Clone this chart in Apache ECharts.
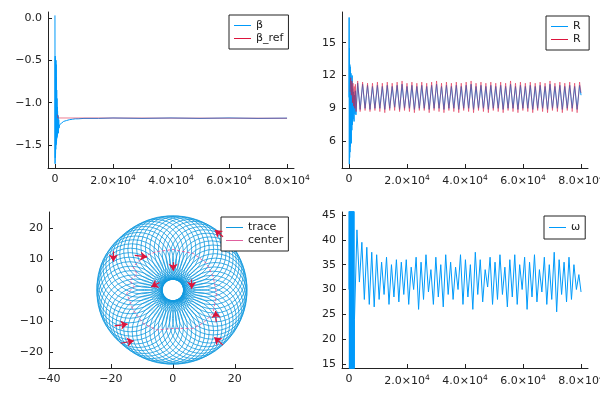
<!DOCTYPE html>
<html>
<head>
<meta charset="utf-8">
<script src="https://cdn.jsdelivr.net/npm/echarts@6/dist/echarts.min.js"></script>
<style>
  html, body { margin: 0; background: #fff; }
  #chart { width: 600px; height: 400px; }
</style>
</head>
<body>
<div id="chart"></div>
<script>
// ---- data ----
const timeTicks = [0, 20000, 40000, 60000, 80000];

// beta (top left)
const betaT = [0, 40, 80, 120, 160, 200, 240, 280, 320, 360, 400, 450, 500, 550, 600, 650, 700, 750, 800, 850, 900,
  1000, 1100, 1200, 1300, 1400, 1600, 1800, 2000, 2300, 2600, 3000, 3500, 4000, 5000, 6000, 7000, 8000, 10000,
  15000, 20000, 30000, 40000, 50000, 60000, 70000, 80000];
const betaV = [0.03, -1.72, -0.45, -1.65, -0.48, -1.6, -0.5, -1.55, -0.5, -1.5, -0.55, -1.48, -0.7, -1.45, -0.85,
  -1.42, -0.95, -1.4, -1.05, -1.38, -1.1, -1.3, -1.15, -1.36, -1.2, -1.3, -1.26, -1.27, -1.25, -1.24, -1.23, -1.22,
  -1.215, -1.21, -1.2, -1.195, -1.19, -1.19, -1.185, -1.185, -1.18, -1.185, -1.18, -1.185, -1.18, -1.185, -1.182];
const betaRefT = [850, 1000, 80000];
const betaRefV = [-1.14, -1.18, -1.183];
const betaTicks = [0, -0.5, -1.0, -1.5];

// R (top right): start-up part, then samples every half period
const rBlueEarlyT = [0, 60, 120, 180, 240, 300, 360, 420, 480, 540, 600, 700, 800, 900, 1000, 1100, 1200, 1300,
  1450, 1600, 1750, 1900, 2050, 2200, 2400];
const rBlueEarlyV = [10, 17.3, 3.9, 14.5, 4.5, 13, 5, 12.8, 5.5, 12.5, 6, 12.2, 5.8, 11.5, 7, 12, 7.5, 10.8, 8,
  10.5, 7.8, 10.2, 8.5, 10.6, 8.4];
const rBlueV = [11.3, 8.9, 11.2, 9.0, 11.1, 8.9, 11.0, 9.0, 11.1, 9.0, 11.0, 8.9, 11.1, 9.0, 11.0, 9.1, 11.1, 8.9,
  11.2, 9.0, 11.0, 9.0, 11.1, 8.9, 11.0, 9.0, 11.1, 9.0, 11.0, 8.9, 11.1, 9.0, 11.2, 9.0, 11.0, 8.9, 11.1, 9.0,
  11.0, 9.0, 11.1, 8.9, 11.0, 9.0, 11.1, 9.0, 11.2, 8.9, 11.0, 9.0, 11.1, 9.0, 11.0, 8.9, 11.1, 9.0, 11.0, 9.0,
  11.1, 8.9, 11.0, 9.0, 11.2, 9.0, 11.0, 8.9, 11.1, 9.0, 11.0, 9.0, 11.1, 8.9, 11.0, 9.0, 11.1, 9.0, 11.0, 8.9,
  11.2, 9.0, 11.0, 9.0, 11.1, 8.9, 11.0, 9.0, 11.1, 9.0, 11.0, 8.9, 11.1];
const rRedEarlyT = [400, 600, 800, 1000, 1200, 1400, 1600, 1800, 2000, 2200, 2450];
const rRedEarlyV = [10.5, 11.8, 10.2, 11.5, 9.5, 11.3, 9.2, 11.0, 9.0, 11.2, 8.7];
const rRedV = [11.5, 8.7, 11.4, 8.8, 11.3, 8.7, 11.3, 8.8, 11.4, 8.7, 11.3, 8.6, 11.4, 8.8, 11.3, 8.8, 11.4, 8.7,
  11.5, 8.8, 11.3, 8.7, 11.4, 8.6, 11.3, 8.8, 11.4, 8.8, 11.3, 8.6, 11.4, 8.8, 11.5, 8.7, 11.3, 8.6, 11.4, 8.8,
  11.3, 8.7, 11.4, 8.6, 11.3, 8.8, 11.4, 8.7, 11.5, 8.6, 11.3, 8.8, 11.4, 8.7, 11.3, 8.6, 11.4, 8.8, 11.3, 8.7,
  11.4, 8.6, 11.3, 8.8, 11.5, 8.7, 11.3, 8.6, 11.4, 8.8, 11.3, 8.7, 11.4, 8.6, 11.3, 8.8, 11.4, 8.7, 11.3, 8.6,
  11.5, 8.8, 11.3, 8.7, 11.4, 8.6, 11.3, 8.8, 11.4, 8.7, 11.3, 8.6, 11.4];
const rStep = 850;
const rTicks = [6, 9, 12, 15];

// omega (bottom right)
const omegaEarlyT = [0, 75, 150, 225, 300, 375, 450, 525, 600, 675, 750, 825, 900, 975, 1050, 1125, 1200, 1275,
  1350, 1425, 1500, 1575, 1650, 1725, 1800];
const omegaEarlyV = [30, 60, 0, 60, 0, 60, 0, 60, 0, 60, 0, 60, 0, 60, 0, 60, 0, 60, 0, 60, 0, 60, 0, 60, 0];
const omegaV = [24, 42, 31.5, 39.5, 28, 38.5, 27, 37.5, 26.5, 37, 28, 35.5, 29, 36.5, 27, 35, 28.5, 36, 27.5, 35.5,
  29, 36, 27, 34.5, 30, 36.5, 26, 35.5, 28, 37, 29.5, 34, 27, 36.5, 28.5, 35, 26.5, 37, 29, 35.5,
  28, 34.5, 30, 37, 27, 36, 28.5, 35, 26, 37.5, 29, 36, 27.5, 34, 30.5, 36.5, 27, 35.5, 28, 37,
  29, 34.5, 26.5, 36, 28.5, 37, 27, 35, 30, 36.5, 26, 35.5, 28.5, 37, 27.5, 34, 29.5, 36.5, 27, 35,
  28, 37.5, 25.5, 36, 29, 35.5, 27.5, 36.5, 28, 35, 30, 33];
const omegaStep = 850;
const omegaTicks = [15, 20, 25, 30, 35, 40, 45];

// trace (bottom left): loops as [centre x, centre y, radius]
const traceLoops = [
  [13.70, 0.00, 10.3], [13.62, 1.43, 10.3], [13.40, 2.85, 10.3], [13.03, 4.23, 10.3], [12.51, 5.57, 10.3],
  [11.86, 6.85, 10.3], [11.08, 8.05, 10.3], [10.18, 9.17, 10.3], [9.17, 10.18, 10.3], [8.05, 11.08, 10.3],
  [6.85, 11.86, 10.3], [5.57, 12.51, 10.3], [4.23, 13.03, 10.3], [2.85, 13.40, 10.3], [1.43, 13.62, 10.3],
  [0.00, 13.70, 10.3], [-1.43, 13.62, 10.3], [-2.85, 13.40, 10.3], [-4.23, 13.03, 10.3], [-5.57, 12.51, 10.3],
  [-6.85, 11.86, 10.3], [-8.05, 11.08, 10.3], [-9.17, 10.18, 10.35], [-10.18, 9.17, 10.4], [-11.20, 8.14, 10.45],
  [-12.04, 6.95, 10.5], [-12.79, 5.69, 10.55], [-13.31, 4.33, 10.6], [-13.69, 2.91, 10.6], [-13.92, 1.46, 10.6],
  [-14.00, 0.00, 10.6], [-13.92, -1.46, 10.6], [-13.69, -2.91, 10.6], [-13.31, -4.33, 10.6], [-12.79, -5.69, 10.55],
  [-12.04, -6.95, 10.5], [-11.20, -8.14, 10.45], [-10.18, -9.17, 10.4], [-9.17, -10.18, 10.35], [-8.05, -11.08, 10.3],
  [-6.85, -11.86, 10.3], [-5.57, -12.51, 10.3], [-4.23, -13.03, 10.3], [-2.85, -13.40, 10.3], [-1.43, -13.62, 10.3],
  [0.00, -13.70, 10.3], [1.43, -13.62, 10.3], [2.85, -13.40, 10.3], [4.23, -13.03, 10.3], [5.57, -12.51, 10.3],
  [6.85, -11.86, 10.3], [8.05, -11.08, 10.3], [9.17, -10.18, 10.3], [10.18, -9.17, 10.3], [11.08, -8.05, 10.3],
  [11.86, -6.85, 10.3], [12.51, -5.57, 10.3], [13.03, -4.23, 10.3], [13.40, -2.85, 10.3], [13.62, -1.43, 10.3]
];
const centerX = [-9.6, -5.2, 0.1, 6.6, 10.9, 13, 14.1, 13, 10, 6.6, 0.1, -5.2, -9.6, -12.8, -14.9, -12.5, -13.9, -11.5, -12.8, -9.6];
const centerY = [10.8, 12.4, 13.1, 11.8, 8.6, 4.3, -1.1, -7.5, -10.5, -12.4, -12.4, -12.9, -10.8, -6.5, -1.1, 1, 3.2, 5, 7.5, 10.8];
// arrows: [x0, y0, x1, y1]
const arrows = [
  [-19.2, 12.5, -19.2, 9.2], [-12.3, 11.2, -8.3, 10.7], [0.1, 9.0, 0.1, 6.2], [-4.3, 2.4, -7.0, 1.0],
  [6.1, 3.4, 6.1, 0.4], [16.2, 17.2, 13.6, 19.4], [14.0, -10.3, 13.8, -6.8], [16.2, -17.8, 13.4, -15.3],
  [-18.8, -11.6, -14.6, -11.0], [-16.8, -17.2, -12.6, -16.4]
];
const traceXTicks = [-40, -20, 0, 20];
const traceYTicks = [-20, -10, 0, 10, 20];

// ---- helpers ----
const blue = '#009AFA';
const crimson = '#DC143C';
const traceBlue = '#0f98de';
const ink = '#222';
const zip = (ts, vs) => vs.map((v, i) => [ts[i], v]);
const sampled = (t0, dt, vs) => vs.map((v, i) => [t0 + i * dt, v]);
const minus = s => String(s).replace('-', '\u2212');
const sci = v => v === 0 ? '0' : (v / 1e4).toFixed(1) + '\u00d710{s|4}';

function axis(idx, min, max, ticks, fmt) {
  return {
    type: 'value', gridIndex: idx, min: min, max: max,
    axisLine: { show: true, onZero: false, lineStyle: { color: ink, width: 1 } },
    axisTick: { show: true, inside: true, length: 4, customValues: ticks, lineStyle: { color: ink } },
    axisLabel: {
      customValues: ticks, formatter: fmt, color: ink, fontSize: 11, margin: 6,
      fontFamily: 'DejaVu Sans',
      rich: { s: { fontSize: 7.5, color: ink, fontFamily: 'DejaVu Sans', padding: [0, 0, 7, 0] } }
    },
    splitLine: { show: false }
  };
}
function legend(left, top, names, pad) {
  return {
    left: left, top: top, orient: 'vertical', data: names, selectedMode: false,
    borderColor: ink, borderWidth: 1, borderRadius: 0, backgroundColor: '#fff',
    padding: pad, itemGap: 2, itemWidth: 17, itemHeight: 1, icon: 'rect',
    textStyle: { fontSize: 11, color: ink, fontFamily: 'DejaVu Sans' }
  };
}
function line(name, xi, data, color, opacity, z) {
  return {
    name: name, type: 'line', xAxisIndex: xi, yAxisIndex: xi, data: data,
    symbol: 'none', clip: true, z: z || 2, color: color,
    lineStyle: { color: color, width: 1, opacity: opacity }
  };
}

const chart = echarts.init(document.getElementById('chart'), null, { renderer: 'canvas' });
chart.setOption({
  animation: false,
  backgroundColor: '#fff',
  grid: [
    { left: 48, top: 12, width: 246, height: 156, outerBoundsMode: 'none' },
    { left: 342, top: 12, width: 246, height: 156, outerBoundsMode: 'none' },
    { left: 49, top: 212, width: 244, height: 156, outerBoundsMode: 'none' },
    { left: 342, top: 212, width: 246, height: 156, outerBoundsMode: 'none' }
  ],
  xAxis: [
    axis(0, -2400, 82400, timeTicks, sci),
    axis(1, -2400, 82400, timeTicks, sci),
    axis(2, -40, 38.8, traceXTicks, v => minus(v)),
    axis(3, -2400, 82400, timeTicks, sci)
  ],
  yAxis: [
    axis(0, -1.77, 0.07, betaTicks, v => minus(v.toFixed(1))),
    axis(1, 3.55, 17.8, rTicks, v => minus(v)),
    axis(2, -25.2, 25.2, traceYTicks, v => minus(v)),
    axis(3, 14.2, 45.6, omegaTicks, v => minus(v))
  ],
  legend: [
    legend(229, 15, ['β', 'β_ref'], [5, 5]),
    legend(546, 16, ['R', 'R '], [5, 5]),
    legend(221, 217, ['trace', 'center'], [5, 5]),
    legend(544, 216, ['ω'], [6, 5])
  ],
  series: [
    line('β', 0, zip(betaT, betaV), blue, 1),
    line('β_ref', 0, zip(betaRefT, betaRefV), crimson, 0.55, 3),
    line('R', 1, zip(rBlueEarlyT, rBlueEarlyV).concat(sampled(3000, rStep, rBlueV), [[80000, 10.2]]), blue, 1),
    line('R ', 1, zip(rRedEarlyT, rRedEarlyV).concat(sampled(3000, rStep, rRedV), [[80000, 10.4]]), crimson, 0.5, 3),
    {
      name: 'trace', type: 'custom', xAxisIndex: 2, yAxisIndex: 2, data: traceLoops,
      dimensions: ['x', 'y', 'r'], encode: { x: 0, y: 1 },
      itemStyle: { color: traceBlue },
      renderItem: function (params, api) {
        const c = api.coord([api.value(0), api.value(1)]);
        const s = api.size([api.value(2), api.value(2)]);
        return {
          type: 'circle',
          shape: { cx: c[0], cy: c[1], r: (s[0] + s[1]) / 2 },
          style: { fill: 'none', stroke: traceBlue, lineWidth: 0.8 }
        };
      }
    },
    Object.assign(line('center', 2, zip(centerX, centerY), '#E0609E', 0.9, 4),
      { lineStyle: { color: '#E0609E', width: 1, type: [3, 2], opacity: 0.9 } }),
    {
      type: 'lines', coordinateSystem: 'cartesian2d', xAxisIndex: 2, yAxisIndex: 2, z: 5,
      symbol: ['none', 'arrow'], symbolSize: 7,
      lineStyle: { color: crimson, width: 1.2, opacity: 1 },
      data: arrows.map(a => ({ coords: [[a[0], a[1]], [a[2], a[3]]] }))
    },
    line('ω', 3, zip(omegaEarlyT, omegaEarlyV).concat(sampled(1900, omegaStep, omegaV), [[80000, 29.5]]), blue, 1)
  ]
});
</script>
</body>
</html>
